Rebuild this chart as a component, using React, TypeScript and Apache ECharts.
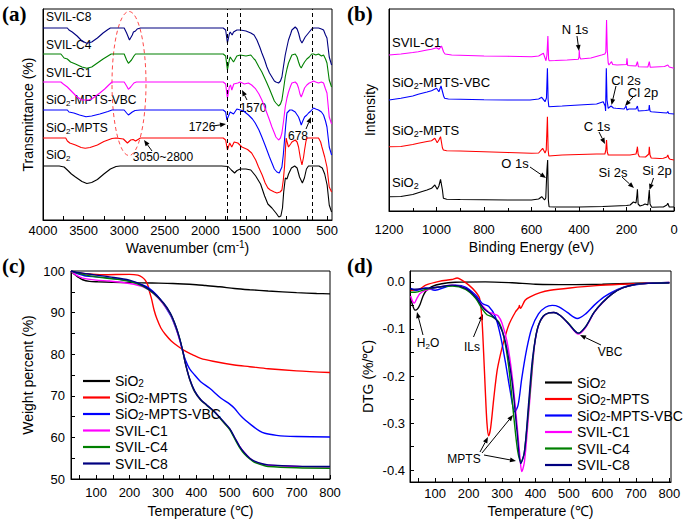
import React, { useEffect, useRef } from 'react';
import * as echarts from 'echarts';

const FONT = '"Liberation Sans", Arial, sans-serif';
const SERIF = '"Liberation Serif", "Times New Roman", serif';

const seriesNames = ['SiO2', 'SiO2-MPTS', 'SiO2-MPTS-VBC', 'SVIL-C1', 'SVIL-C4', 'SVIL-C8'];
const seriesColors = ['#000000', '#ff0000', '#0000ff', '#ff00ff', '#008000', '#000080'];

// ---------- (a) FTIR: [wavenumber, transmittance (a.u.)]
const ftirSiO2 = [[4000,54],[3800,54],[3740,53],[3700,50],[3650,46],[3600,43],[3520,38.5],[3460,36.5],[3400,37.5],[3330,40.5],[3250,46],[3170,51],[3100,53.5],[3050,54],[2500,54],[1800,54],[1720,53.5],[1680,50],[1640,47],[1610,49.5],[1570,51],[1500,51],[1440,50],[1380,44],[1320,36],[1270,24],[1230,16],[1180,12],[1130,7],[1095,3],[1070,4],[1050,12],[1035,28],[1015,42],[995,41],[975,46],[940,52],[900,54],[870,52],[840,43],[805,37],[780,42],[755,51],[730,54],[600,54],[560,52],[530,46],[500,35],[474,15],[445,8]];
const ftirMPTS = [[4000,82],[3720,82],[3700,79],[3670,77],[3600,75],[3530,72.5],[3480,71.7],[3420,72.5],[3330,75],[3250,78.5],[3150,81.5],[3100,82],[3010,81],[2960,77],[2920,80],[2890,80.5],[2860,79],[2840,80],[2800,82],[1780,82],[1750,80],[1728,70],[1700,77],[1675,73],[1645,78],[1600,77],[1550,73],[1480,70.5],[1430,67],[1380,60],[1345,53],[1300,45],[1263,37],[1230,32],[1200,30],[1150,28],[1119,27],[1080,28],[1057,30],[1040,40],[1025,53],[1010,75],[1004,82],[990,77],[976,73],[950,76],[934,78],[893,80],[870,78],[852,73],[830,62],[810,55],[790,63],[778,70],[760,79],[749,82],[640,82],[606,82],[580,78],[564,73],[530,63],[502,53],[474,33],[445,28]];
const ftirVBC = [[4000,110],[3700,110],[3680,108],[3620,107],[3550,105],[3470,103.3],[3400,104],[3300,106],[3200,108.5],[3150,110],[3000,110],[2970,107],[2948,105],[2900,108],[2866,109.5],[2800,110],[1780,110],[1750,108],[1735,100],[1710,105],[1694,108],[1653,106],[1612,111],[1570,110],[1530,109],[1469,105],[1420,101],[1386,97],[1340,90],[1304,83],[1270,76],[1242,70],[1210,63],[1180,57],[1150,51],[1119,48],[1090,47],[1057,53],[1040,65],[1025,80],[1010,95],[995,107],[960,110],[934,110],[893,108],[852,103],[830,98],[819,95],[800,99],[778,103],[750,105],[729,107],[700,109],[667,112],[640,111],[606,110],[570,108],[544,105],[520,99],[502,93],[474,73],[445,65]];
const ftirC1 = [[4000,138],[3780,138],[3750,136],[3700,133],[3640,128],[3580,123],[3520,120],[3440,120],[3400,121],[3350,124],[3300,127],[3240,131],[3190,135],[3150,138],[3000,138],[2970,134],[2948,130.7],[2920,133],[2880,137],[2850,138],[1780,138],[1750,136],[1728,121.7],[1705,133],[1690,135],[1674,130],[1650,136],[1600,137],[1570,138],[1520,136],[1470,137],[1430,135],[1386,131.7],[1340,126],[1304,120],[1270,113],[1242,107],[1210,100],[1180,93],[1150,87],[1131,83],[1098,80],[1075,82],[1057,87],[1035,100],[1016,113],[995,122],[976,128],[950,134],[934,137],[893,138],[870,136],[852,132],[835,126],[819,123],[800,127],[778,132],[750,135],[720,137],[690,138],[667,139],[640,138],[606,137],[570,138],[544,137],[520,131],[502,127],[474,103],[445,96]];
const ftirC4 = [[4000,166],[3780,166],[3740,162],[3700,161],[3660,158],[3600,156],[3520,153],[3460,151.7],[3400,153],[3330,157],[3260,161],[3200,164],[3160,166],[3000,166],[2970,160],[2948,156.7],[2910,160],[2880,164],[2860,166],[1780,166],[1750,164],[1728,150],[1705,160],[1694,163],[1653,158],[1612,164],[1570,165],[1500,164],[1440,165],[1400,161],[1386,160],[1340,153],[1304,148],[1270,142],[1242,137],[1210,131],[1180,125],[1150,119],[1131,117],[1098,114],[1075,116],[1057,120],[1035,132],[1016,143],[995,151],[976,157],[950,162],[934,165],[893,166],[870,163],[852,158],[835,154],[819,152],[800,155],[778,158],[750,161],[720,163],[690,166],[667,166],[640,165],[606,166],[570,164],[544,165],[520,161],[502,157],[474,140],[445,133]];
const ftirC8 = [[4000,192],[3700,192],[3680,190],[3640,188],[3580,184],[3520,179],[3461,176.7],[3400,178],[3330,182],[3260,187],[3200,190.5],[3170,192],[3000,192],[2970,187],[2935,180],[2900,185],[2886,188],[2860,189],[2840,191],[2800,192],[1780,192],[1750,190],[1728,177],[1705,186],[1694,188],[1670,185],[1653,188],[1612,190],[1570,190],[1500,189],[1440,187],[1400,185],[1365,180],[1330,173],[1304,167],[1270,160],[1242,153],[1210,147],[1180,143],[1150,139],[1131,138],[1098,137],[1075,139],[1057,143],[1035,155],[1016,165],[995,173],[976,180],[950,186],[934,190],[893,193],[870,191],[852,187],[830,180],[810,177],[790,180],[770,183],[740,186],[720,188],[690,191],[667,192],[640,192],[606,192],[570,191],[544,190],[520,185],[502,182],[474,163],[445,155]];
const ftirDashed = [1726, 1570, 678];
const ftirLabels = [4000, 3500, 3000, 2500, 2000, 1500, 1000, 500];
const ftirTickValues = [4000, 3750, 3500, 3250, 3000, 2750, 2500, 2250, 2000, 1750, 1500, 1250, 1000, 750, 500];

// ---------- (b) XPS: [binding energy, intensity (a.u.)]
const xpsSiO2 = [[1200,13.3],[1150,13.5],[1100,15.5],[1077,17.3],[1040,20],[1021,21.7],[1007,25],[997,20.7],[990,24],[983,30.7],[975,20],[971,11.7],[957,10.7],[900,10.5],[800,10.3],[700,10],[600,10],[570,11],[557,13.3],[545,10],[540,12],[535,40],[532,50],[529,10],[526,3.3],[500,3],[400,3],[300,3.5],[200,4.5],[185,5],[171,8],[160,7],[156,15],[154,20.7],[151,6],[143,4],[130,5],[122,6],[110,5],[106,15],[104,20],[101,6],[94,2.7],[60,3],[45,3],[30,5],[26,6.7],[20,3],[0,3]];
const xpsMPTS = [[1200,63.3],[1150,63.5],[1100,65.5],[1077,66.7],[1040,68.5],[1021,69.3],[1007,71.7],[997,67.3],[990,70],[983,73.3],[975,62],[971,60],[957,59.3],[900,59],[800,58.3],[700,57.5],[600,56.7],[570,57],[553,61.7],[543,57],[538,60],[533,93.3],[530,60],[527,54],[500,54.5],[471,55],[400,55.5],[326,56],[291,56],[287,60],[284,70],[281,58],[277,55],[200,55],[185,55],[160,56],[156,60],[154,63.3],[151,56],[146,53.3],[120,53],[106,56],[104,63.3],[101,55],[96,52],[60,51.5],[45,51.7],[30,53],[26,55],[22,52],[16,50.7],[0,50]];
const xpsVBC = [[1200,110],[1150,111.7],[1100,114],[1077,115.7],[1040,118],[1021,119.3],[1000,121.7],[990,118.3],[981,124],[970,114],[966,111.7],[950,111],[800,110.3],[700,110],[606,110],[570,111],[557,112.7],[543,108.3],[537,112],[533,141.7],[530,110],[527,103.3],[471,104],[400,105],[326,106],[298,108.3],[290,104],[288,99],[285,141.7],[282,110],[277,101.7],[265,104],[255,102],[244,101.7],[210,101],[202,104],[198,100],[190,101],[160,101],[154,104],[150,99],[120,99.5],[106,100],[104,105],[101,99],[96,98.3],[45,97.3],[30,97],[26,98.5],[22,96.5],[0,96]];
const xpsC1 = [[1200,155],[1150,156],[1100,157.5],[1077,158.3],[1040,160],[1021,160.7],[1000,162.3],[990,160.7],[979,164],[970,158],[964,156],[936,155],[800,154],[700,153.7],[599,153.3],[570,154],[550,156.7],[539,149.3],[535,155],[531,174],[528,151],[526,149.3],[500,149.5],[450,150],[403,150.7],[400,153],[399,160],[397,153],[393,151],[350,152],[305,155],[291,156],[287,158],[284,190],[281,160],[277,147],[274,145],[263,148.3],[258,145.5],[240,145],[200,145.5],[198,151.7],[195,144.5],[160,144],[154,148.3],[150,143.3],[110,143],[104,148.3],[100,142.7],[40,143.5],[26,145],[20,143],[0,141.7]];

// ---------- (c) TGA: [temperature, weight %]
const tgaSiO2 = [[25,100],[35,99.2],[45,98.6],[60,97.9],[80,97.5],[105,97.4],[150,97.3],[206,97.2],[267,97.1],[330,97],[400,96.7],[428,96.5],[470,96.2],[514,95.8],[560,95.5],[615,95.2],[700,94.8],[760,94.6],[800,94.5]];
const tgaMPTS = [[25,100],[40,99.6],[60,99.4],[120,99.1],[200,99.2],[225,99],[238,98.5],[247,97.8],[255,96.6],[260,95],[266,93.3],[274,90.5],[282,88.5],[294,86.3],[307,84.8],[325,83.2],[347,81.8],[370,80.6],[388,79.9],[413,79],[450,78.3],[514,77.4],[560,77],[615,76.5],[700,76],[800,75.6]];
const tgaVBC = [[25,100],[40,99.5],[70,98.8],[100,98.6],[140,98.3],[200,97.6],[241,96.6],[260,95.8],[282,94.2],[297,92.6],[312,90.8],[325,89],[340,86],[352,83],[360,80.5],[368,78.5],[380,76.5],[395,75],[413,73.4],[440,71.8],[474,69.4],[500,68],[514,67],[535,65],[564,63],[590,61.5],[605,61],[640,60.5],[665,60.3],[700,60.2],[800,60.1]];
const tgaC1 = [[25,100],[40,99],[60,98.3],[100,97.8],[140,97.6],[200,97],[241,96.2],[272,94.6],[302,92],[322,89.7],[338,86.6],[350,83.5],[360,80.5],[368,77.5],[380,74],[395,71],[413,69],[430,67.8],[453,66.2],[484,63.4],[500,62],[514,60],[530,57.8],[544,56.3],[560,55],[574,54.2],[600,53.5],[615,53.3],[700,53],[800,52.9]];
const tgaC4 = [[25,100],[40,99.6],[60,99.2],[100,98.6],[140,98.2],[200,97.5],[241,96.3],[272,94.6],[302,92.2],[322,89.8],[338,86.8],[350,83.8],[360,80.5],[368,77.5],[380,74],[395,71],[413,69],[430,67.8],[453,66.2],[484,63.4],[500,61.9],[514,59.8],[530,57.5],[544,56],[560,54.8],[574,54],[600,53.3],[615,53],[700,52.7],[800,52.6]];
const tgaC8 = [[25,100],[40,99.7],[60,99.5],[100,99],[140,98.6],[200,97.8],[241,96.5],[272,94.8],[302,92.3],[322,89.9],[338,86.9],[350,83.8],[360,80.6],[368,77.6],[380,74.1],[395,71.2],[413,69.1],[430,67.9],[453,66.3],[484,63.6],[500,62.1],[514,60.1],[530,57.8],[544,56.3],[560,55],[574,54.3],[600,53.6],[615,53.4],[700,53.1],[800,53]];
const tempLabels = [100, 200, 300, 400, 500, 600, 700, 800];
const tempTicks = [50, 100, 150, 200, 250, 300, 350, 400, 450, 500, 550, 600, 650, 700, 750, 800];

// ---------- (d) DTG: [temperature, %/℃]
const dtgSiO2 = [[27,-0.035],[33,-0.05],[40,-0.06],[47,-0.058],[55,-0.048],[63,-0.032],[72,-0.02],[90,-0.01],[120,-0.004],[160,-0.001],[250,0],[330,-0.002],[400,-0.005],[500,-0.006],[600,-0.005],[700,-0.003],[800,-0.002]];
const dtgMPTS = [[27,-0.018],[52,-0.016],[72,-0.007],[112,0.001],[150,0.005],[166,0.008],[181,0.003],[201,-0.007],[221,-0.021],[233,-0.035],[240,-0.08],[245,-0.15],[250,-0.23],[255,-0.3],[260,-0.327],[266,-0.31],[275,-0.25],[285,-0.19],[295,-0.155],[305,-0.127],[320,-0.092],[340,-0.064],[350,-0.055],[352,-0.05],[355,-0.056],[369,-0.039],[384,-0.032],[414,-0.023],[444,-0.018],[503,-0.013],[582,-0.008],[661,-0.005],[731,-0.003],[800,-0.0015]];
const dtgVBC = [[27,-0.014],[43,-0.018],[72,-0.013],[100,-0.018],[132,-0.011],[161,-0.007],[191,-0.011],[221,-0.028],[241,-0.046],[260,-0.052],[280,-0.074],[295,-0.113],[310,-0.17],[325,-0.234],[338,-0.276],[348,-0.262],[359,-0.205],[374,-0.142],[389,-0.098],[409,-0.068],[430,-0.054],[450,-0.05],[470,-0.053],[495,-0.065],[525,-0.078],[550,-0.068],[575,-0.05],[605,-0.032],[635,-0.02],[670,-0.01],[720,-0.004],[800,-0.0015]];
const dtgC1 = [[27,-0.03],[33,-0.042],[38,-0.045],[45,-0.036],[55,-0.025],[72,-0.018],[112,-0.011],[151,-0.007],[181,-0.011],[211,-0.025],[241,-0.05],[260,-0.064],[275,-0.068],[288,-0.072],[300,-0.088],[315,-0.127],[330,-0.198],[345,-0.304],[354,-0.375],[359,-0.403],[367,-0.382],[377,-0.304],[389,-0.198],[398,-0.13],[408,-0.095],[422,-0.075],[440,-0.066],[455,-0.065],[475,-0.072],[500,-0.09],[528,-0.111],[550,-0.097],[575,-0.066],[600,-0.045],[630,-0.025],[660,-0.013],[700,-0.005],[750,-0.003],[800,-0.002]];
const dtgC4 = [[27,-0.022],[40,-0.022],[72,-0.016],[112,-0.011],[151,-0.009],[191,-0.016],[221,-0.035],[241,-0.058],[255,-0.07],[270,-0.074],[290,-0.085],[305,-0.115],[320,-0.18],[335,-0.285],[347,-0.36],[357,-0.382],[366,-0.365],[377,-0.29],[389,-0.19],[398,-0.128],[408,-0.094],[422,-0.074],[440,-0.066],[455,-0.065],[475,-0.072],[500,-0.089],[528,-0.109],[550,-0.095],[575,-0.065],[600,-0.044],[630,-0.025],[660,-0.013],[700,-0.005],[750,-0.003],[800,-0.002]];
const dtgC8 = [[27,-0.016],[72,-0.014],[112,-0.011],[151,-0.007],[191,-0.014],[221,-0.032],[246,-0.057],[270,-0.071],[290,-0.088],[310,-0.127],[330,-0.212],[345,-0.318],[356,-0.386],[367,-0.361],[379,-0.262],[390,-0.17],[400,-0.12],[410,-0.09],[424,-0.072],[440,-0.066],[455,-0.065],[475,-0.072],[500,-0.09],[528,-0.109],[550,-0.095],[575,-0.065],[600,-0.044],[630,-0.025],[660,-0.013],[700,-0.005],[750,-0.003],[800,-0.002]];
const dtgLabels = [0, -0.1, -0.2, -0.3, -0.4];
const dtgTicks = [0, -0.05, -0.1, -0.15, -0.2, -0.25, -0.3, -0.35, -0.4];

// ---------- helpers
function richName(name: string): string {
  if (name.startsWith('SiO2')) {
    const rest = name.slice(4);
    return '{n|SiO}{s|2}' + (rest ? '{n|' + rest + '}' : '');
  }
  if (name === 'H2O') return '{n|H}{s|2}{n|O}';
  return '{n|' + name + '}';
}
function richStyle(size: number, lh?: number) {
  const sub = Math.round(size * 0.68);
  return {
    n: { fontSize: size, fontFamily: FONT, lineHeight: lh || size + 3, color: '#000' },
    s: { fontSize: sub, fontFamily: FONT, lineHeight: sub, verticalAlign: 'bottom', color: '#000' },
    p: { fontSize: sub, fontFamily: FONT, lineHeight: sub, verticalAlign: 'top', color: '#000' },
  };
}
function label(x: number, y: number, name: string, size: number, align = 'left') {
  return {
    type: 'text', x, y, silent: true,
    style: { text: richName(name), rich: richStyle(size), align, verticalAlign: 'middle', fill: '#000', fontSize: size, fontFamily: FONT },
  };
}
function arrow(x1: number, y1: number, x2: number, y2: number) {
  const dx = x2 - x1, dy = y2 - y1;
  const len = Math.hypot(dx, dy);
  const ux = dx / len, uy = dy / len;
  const hl = 6, hw = 2.4;
  const bx = x2 - ux * hl, by = y2 - uy * hl;
  return [
    { type: 'line', silent: true, shape: { x1, y1, x2: bx, y2: by }, style: { stroke: '#000', lineWidth: 1 } },
    { type: 'polygon', silent: true, shape: { points: [[x2, y2], [bx - uy * hw, by + ux * hw], [bx + uy * hw, by - ux * hw]] }, style: { fill: '#000' } },
  ];
}
function tag(x: number, y: number, t: string) {
  return { type: 'text', x, y, silent: true, style: { text: t, fontFamily: SERIF, fontWeight: 'bold', fontSize: 21, fill: '#000', align: 'left', verticalAlign: 'top' } };
}

function lineSeries(name: string, data: number[][], color: string, idx: number, smooth: number | boolean, width = 1.2, extra: any = {}) {
  return {
    type: 'line', name, data, xAxisIndex: idx, yAxisIndex: idx, symbol: 'none', smooth,
    lineStyle: { color, width }, itemStyle: { color }, emphasis: { disabled: true }, silent: true, ...extra,
  };
}

const nameStyle = (extra: any = {}) => ({ fontSize: 14, fontFamily: FONT, color: '#000', rich: richStyle(14), ...extra });
const axisLineStyle = { show: true, onZero: false, lineStyle: { color: '#000', width: 1 } };
const tickLabel = { color: '#000', fontSize: 13, fontFamily: FONT, formatter: (v: number) => String(v) };

function buildOption() {
  const gridBase = { show: true, borderColor: '#000', borderWidth: 1, backgroundColor: 'transparent' };
  const grids = [
    { left: 43, top: 9, width: 289, height: 211 },
    { left: 389, top: 9, width: 285, height: 202 },
    { left: 71, top: 271, width: 259, height: 208 },
    { left: 410, top: 271, width: 261, height: 211 },
  ].map((g) => ({ ...gridBase, ...g }));

  const xAxis = [
    {
      gridIndex: 0, type: 'value', min: 440, max: 4000, inverse: true,
      axisLine: axisLineStyle, splitLine: { show: false },
      axisLabel: { ...tickLabel, margin: 4, customValues: ftirLabels },
      axisTick: { inside: true, length: 4, customValues: ftirTickValues, lineStyle: { color: '#000' } },
      name: '{n|Wavenumber (cm}{p|-1}{n|)}', nameLocation: 'middle', nameGap: 19, nameTextStyle: nameStyle(),
    },
    {
      gridIndex: 1, type: 'value', min: 0, max: 1200, interval: 200, inverse: true,
      axisLine: axisLineStyle, splitLine: { show: false },
      axisLabel: { ...tickLabel, margin: 12 },
      axisTick: { inside: true, length: 4, lineStyle: { color: '#000' } },
      minorTick: { show: true, splitNumber: 2, length: 3, lineStyle: { color: '#000' } },
      name: 'Binding Energy (eV)', nameLocation: 'middle', nameGap: 29, nameTextStyle: nameStyle(),
    },
    {
      gridIndex: 2, type: 'value', min: 25, max: 800,
      axisLine: axisLineStyle, splitLine: { show: false },
      axisLabel: { ...tickLabel, margin: 7, customValues: tempLabels },
      axisTick: { inside: true, length: 4, customValues: tempTicks, lineStyle: { color: '#000' } },
      name: 'Temperature (℃)', nameLocation: 'middle', nameGap: 25, nameTextStyle: nameStyle(),
    },
    {
      gridIndex: 3, type: 'value', min: 25, max: 805,
      axisLine: axisLineStyle, splitLine: { show: false },
      axisLabel: { ...tickLabel, margin: 5, customValues: tempLabels },
      axisTick: { inside: true, length: 4, customValues: tempTicks, lineStyle: { color: '#000' } },
      name: 'Temperature (℃)', nameLocation: 'middle', nameGap: 22, nameTextStyle: nameStyle(),
    },
  ];

  const yAxis = [
    {
      gridIndex: 0, type: 'value', min: 0, max: 211,
      axisLine: axisLineStyle, splitLine: { show: false }, axisLabel: { show: false }, axisTick: { show: false },
      name: 'Transmittance (%)', nameLocation: 'middle', nameGap: 8, nameRotate: 90, nameTextStyle: nameStyle(),
    },
    {
      gridIndex: 1, type: 'value', min: -1, max: 201,
      axisLine: axisLineStyle, splitLine: { show: false }, axisLabel: { show: false }, axisTick: { show: false },
      name: 'Intensity', nameLocation: 'middle', nameGap: 12, nameRotate: 90, nameTextStyle: nameStyle(),
    },
    {
      gridIndex: 2, type: 'value', min: 50, max: 100, interval: 10,
      axisLine: axisLineStyle, splitLine: { show: false },
      axisLabel: { ...tickLabel, margin: 6 },
      axisTick: { inside: true, length: 4, lineStyle: { color: '#000' } },
      minorTick: { show: true, splitNumber: 2, length: 4, lineStyle: { color: '#000' } },
      name: 'Weight percent (%)', nameLocation: 'middle', nameGap: 36, nameRotate: 90, nameTextStyle: nameStyle(),
    },
    {
      gridIndex: 3, type: 'value', min: -0.425, max: 0.023,
      axisLine: axisLineStyle, splitLine: { show: false },
      axisLabel: { ...tickLabel, margin: 5, customValues: dtgLabels, formatter: (v: number) => (Math.abs(v) < 1e-9 ? '0.0' : v.toFixed(1)) },
      axisTick: { inside: true, length: 4, customValues: dtgTicks, lineStyle: { color: '#000' } },
      name: 'DTG (%/℃)', nameLocation: 'middle', nameGap: 35, nameRotate: 90, nameTextStyle: nameStyle(),
    },
  ];

  const ftir = [ftirSiO2, ftirMPTS, ftirVBC, ftirC1, ftirC4, ftirC8];
  const xps = [xpsSiO2, xpsMPTS, xpsVBC, xpsC1];
  const tga = [tgaSiO2, tgaMPTS, tgaVBC, tgaC1, tgaC4, tgaC8];
  const dtg = [dtgSiO2, dtgMPTS, dtgVBC, dtgC1, dtgC4, dtgC8];

  const series: any[] = [];
  ftir.forEach((d, i) => {
    const extra = i === 0 ? {
      markLine: {
        silent: true, symbol: 'none', label: { show: false },
        lineStyle: { type: [4, 3], color: '#000', width: 1 },
        data: ftirDashed.map((x) => ({ xAxis: x })),
      },
    } : {};
    series.push(lineSeries('FTIR ' + seriesNames[i], d, seriesColors[i], 0, false, 1.1, extra));
  });
  xps.forEach((d, i) => series.push(lineSeries('XPS ' + seriesNames[i], d, seriesColors[i], 1, false, 1.1)));
  tga.forEach((d, i) => series.push(lineSeries(seriesNames[i], d, seriesColors[i], 2, 0.3, 1.4)));
  dtg.forEach((d, i) => series.push(lineSeries(seriesNames[i], d, seriesColors[i], 3, 0.3, 1.4)));

  const legendBase = {
    orient: 'vertical', padding: 0, itemGap: 2.5, itemWidth: 27, itemHeight: 2.2, icon: 'rect',
    selectedMode: false, data: seriesNames, formatter: (n: string) => richName(n),
    textStyle: { fontSize: 14, fontFamily: FONT, color: '#000', rich: richStyle(14, 14) },
  };
  const legend = [
    { ...legendBase, left: 83, top: 374 },
    { ...legendBase, left: 545, top: 375.5 },
  ];

  const graphic: any[] = [
    tag(2, 3, '(a)'), tag(347, 3, '(b)'), tag(2, 255, '(c)'), tag(347, 255, '(d)'),
    // (a) curve labels
    label(46, 17, 'SVIL-C8', 12), label(46, 45, 'SVIL-C4', 12), label(46, 73, 'SVIL-C1', 12),
    label(46, 100, 'SiO2-MPTS-VBC', 12), label(46, 128, 'SiO2-MPTS', 12), label(46, 155, 'SiO2', 12),
    // (a) annotations
    label(253, 108, '1570', 12, 'center'), ...arrow(247, 100, 242, 90),
    label(202, 127, '1726', 12, 'center'), ...arrow(213, 126, 226, 124),
    label(298, 136, '678', 12, 'center'), ...arrow(306, 129, 311, 117),
    label(163, 157, '3050~2800', 12, 'center'), ...arrow(152, 151, 144, 140),
    {
      type: 'ellipse', silent: true, shape: { cx: 129, cy: 83.5, rx: 17, ry: 72 },
      style: { stroke: '#ff4a4a', lineWidth: 1, lineDash: [4, 3], fill: null },
    },
    // (b) curve labels
    label(392, 42, 'SVIL-C1', 13), label(392, 82, 'SiO2-MPTS-VBC', 13), label(392, 130, 'SiO2-MPTS', 13), label(392, 182, 'SiO2', 13),
    // (b) annotations
    label(575, 29, 'N 1s', 13, 'center'), ...arrow(577, 36, 579, 51),
    label(626, 80, 'Cl 2s', 13, 'center'), ...arrow(616, 86, 611.5, 105),
    label(643, 92, 'Cl 2p', 13, 'center'), ...arrow(633, 97, 625, 106),
    label(597, 126, 'C 1s', 13, 'center'), ...arrow(599, 132, 605, 144),
    label(515, 163, 'O 1s', 13, 'center'), ...arrow(530, 167, 546, 178),
    label(613, 172, 'Si 2s', 13, 'center'), ...arrow(622, 177, 634, 188),
    label(657, 170, 'Si 2p', 13, 'center'), ...arrow(653.5, 178, 649.5, 190),
    // (d) annotations
    label(428, 343, 'H2O', 12, 'center'), ...arrow(423, 335, 417, 312),
    label(472, 347, 'ILs', 12, 'center'), ...arrow(473.5, 337, 483, 314),
    label(610, 352, 'VBC', 12, 'center'), ...arrow(601, 345, 580, 335),
    label(464, 459, 'MPTS', 12, 'center'),
    ...arrow(480, 452, 488, 437), ...arrow(482, 453, 513, 415), ...arrow(484, 455, 516, 461),
  ];

  return {
    animation: false,
    backgroundColor: '#ffffff',
    textStyle: { fontFamily: FONT },
    grid: grids,
    xAxis, yAxis, series, legend, graphic,
  };
}

export default function App() {
  const ref = useRef<HTMLDivElement>(null);
  useEffect(() => {
    if (!ref.current) return;
    const chart = echarts.init(ref.current, null, { renderer: 'svg' });
    chart.setOption(buildOption() as any);
    return () => chart.dispose();
  }, []);
  return <div ref={ref} style={{ position: 'fixed', left: 0, top: 0, width: 685, height: 524, background: '#fff' }} />;
}
